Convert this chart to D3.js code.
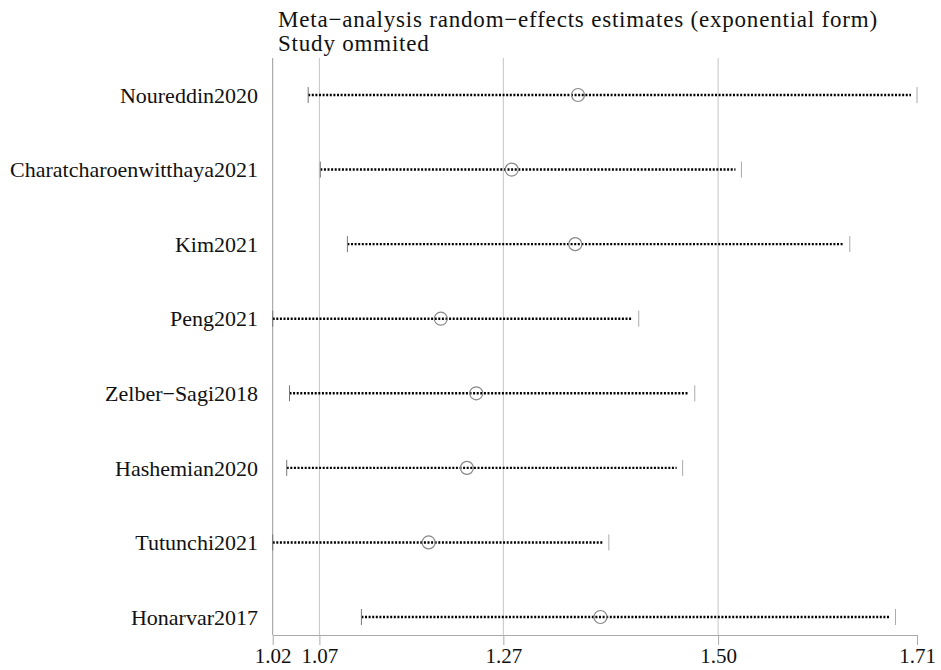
<!DOCTYPE html>
<html>
<head>
<meta charset="utf-8">
<style>
  body { margin: 0; background: #fff; }
  text { font-family: "Liberation Serif", "Times New Roman", serif; fill: #111; }
</style>
</head>
<body>
<script src="https://cdn.jsdelivr.net/npm/d3@7"></script>
<svg width="941" height="670"></svg>
<script>
// studies omitted, one row each
const studies = ["Noureddin2020", "Charatcharoenwitthaya2021", "Kim2021", "Peng2021",
                 "Zelber\u2212Sagi2018", "Hashemian2020", "Tutunchi2021", "Honarvar2017"]
const estimate = [1.347, 1.276, 1.344, 1.200, 1.238, 1.228, 1.187, 1.371]
const lower    = [1.058, 1.071, 1.100, 1.020, 1.038, 1.035, 1.020, 1.115]
const upper    = [1.710, 1.522, 1.638, 1.412, 1.472, 1.459, 1.380, 1.687]
// axis ticks: min lower, pooled lower, pooled estimate, pooled upper, max upper
const tickValues = [1.02, 1.07, 1.267, 1.497, 1.71]
const gridValues = [1.02, 1.07, 1.267, 1.497]

const svg = d3.select("svg")
const x = d3.scaleLinear().domain([1.02, 1.71]).range([272.7, 917])
const y = d3.scalePoint().domain(studies).range([95, 617])
const plotTop = 58, axisY = 635

svg.append("text").attr("x", 278).attr("y", 27).style("font-size", "23px")
    .style("letter-spacing", "0.8px")
    .text("Meta\u2212analysis random\u2212effects estimates (exponential form)")
svg.append("text").attr("x", 278).attr("y", 51).style("font-size", "23px")
    .style("letter-spacing", "0.8px")
    .text("Study ommited")

// vertical reference lines
svg.selectAll("line.grid")
    .data(gridValues)
    .enter()
    .append("line")
    .attr("class", "grid")
    .attr("x1", d => x(d)).attr("x2", d => x(d))
    .attr("y1", plotTop).attr("y2", axisY)
    .attr("stroke", (d, i) => i == 0 ? "#999" : "#c4c4c4")
    .attr("stroke-width", 1)

// x axis
const xAxis = d3.axisBottom(x)
    .tickValues(tickValues)
    .tickFormat(d3.format(".2f"))
    .tickSize(10)
    .tickSizeOuter(0)
const ax = svg.append("g").attr("transform", `translate(0,${axisY})`).call(xAxis)
ax.select("path").attr("stroke", "#aaa")
ax.selectAll("line").attr("stroke", "#aaa")
ax.selectAll("text").style("font-size", "21px").attr("y", 13).attr("dy", "0.71em").attr("fill", "#111")
    .style("font-family", "Liberation Serif, serif")

const rows = studies.map((s, i) => ({name: s, est: estimate[i], lo: lower[i], hi: upper[i]}))

// study labels
svg.selectAll("text.study")
    .data(rows)
    .enter()
    .append("text")
    .attr("class", "study")
    .attr("x", 258)
    .attr("y", d => y(d.name))
    .attr("dy", "0.35em")
    .attr("text-anchor", "end")
    .style("font-size", "22px")
    .text(d => d.name)

// dotted CI lines
svg.selectAll("line.ci")
    .data(rows)
    .enter()
    .append("line")
    .attr("class", "ci")
    .attr("x1", d => x(d.lo)).attr("x2", d => x(d.hi) - 6)
    .attr("y1", d => y(d.name)).attr("y2", d => y(d.name))
    .attr("stroke", "#000")
    .attr("stroke-width", 2.4)
    .attr("stroke-dasharray", "2,1.6")

// end bars
svg.selectAll("line.lo")
    .data(rows)
    .enter()
    .append("line")
    .attr("class", "lo")
    .attr("x1", d => x(d.lo)).attr("x2", d => x(d.lo))
    .attr("y1", d => y(d.name) - 8).attr("y2", d => y(d.name) + 8)
    .attr("stroke", "#777")
svg.selectAll("line.hi")
    .data(rows)
    .enter()
    .append("line")
    .attr("class", "hi")
    .attr("x1", d => x(d.hi)).attr("x2", d => x(d.hi))
    .attr("y1", d => y(d.name) - 8).attr("y2", d => y(d.name) + 8)
    .attr("stroke", "#aaa")

// estimates
svg.selectAll("circle.est")
    .data(rows)
    .enter()
    .append("circle")
    .attr("class", "est")
    .attr("cx", d => x(d.est))
    .attr("cy", d => y(d.name))
    .attr("r", 6.5)
    .attr("fill", "none")
    .attr("stroke", "#888")
    .attr("stroke-width", 1.2)
</script>
</body>
</html>
